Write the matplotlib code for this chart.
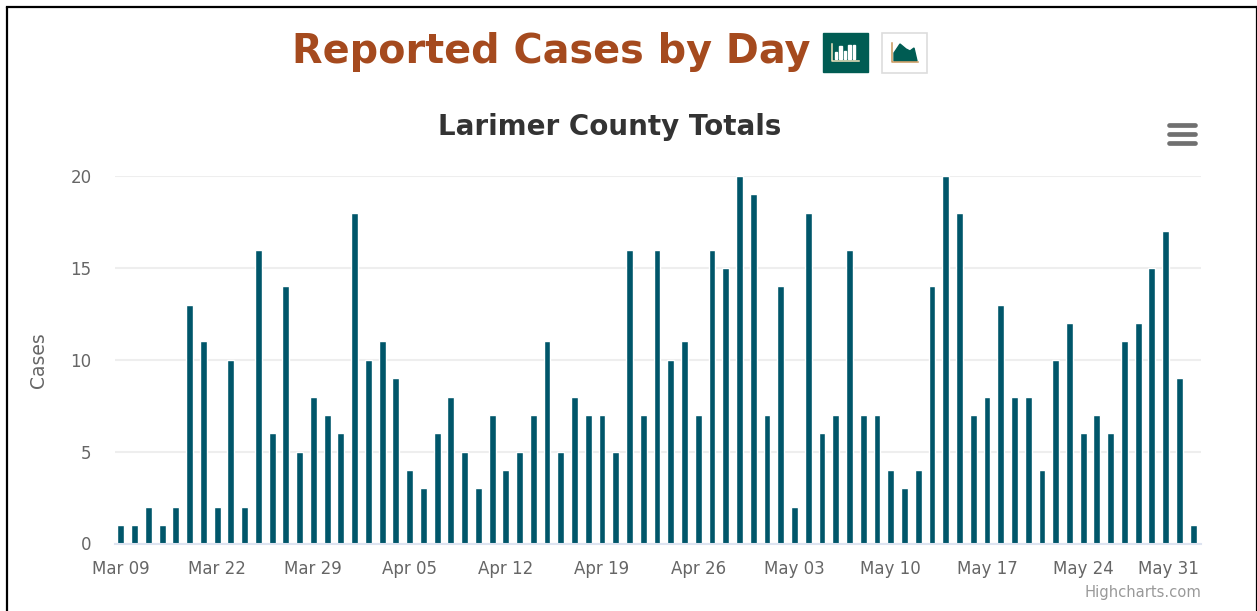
import matplotlib
matplotlib.use('Agg')
import matplotlib.pyplot as plt
import matplotlib.patches as mpatches
import matplotlib.transforms as mtrans
import numpy as np

# daily cases, one bar per reporting day
cases = [1, 1, 2, 1, 2, 13, 11, 2, 10, 2,
         16, 6, 14, 5, 8, 7, 6, 18, 10, 11,
         9, 4, 3, 6, 8, 5, 3, 7, 4, 5,
         7, 11, 5, 8, 7, 7, 5, 16, 7, 16,
         10, 11, 7, 16, 15, 20, 19, 7, 14, 2,
         18, 6, 7, 16, 7, 7, 4, 3, 4, 14,
         20, 18, 7, 8, 13, 8, 8, 4, 10, 12,
         6, 7, 6, 11, 12, 15, 17, 9, 1]
tick_idx = [0, 7, 14, 21, 28, 35, 42, 49, 56, 63, 70, 77]
tick_labels = ['Mar 09', 'Mar 22', 'Mar 29', 'Apr 05', 'Apr 12', 'Apr 19',
               'Apr 26', 'May 03', 'May 10', 'May 17', 'May 24', 'May 31']
y_ticks = [0, 5, 10, 15, 20]

W, H = 1257, 611
fig = plt.figure(figsize=(W / 100, H / 100), dpi=100, facecolor='white')

# chart area
ax = fig.add_axes([115 / W, (H - 543.5) / H, (1201 - 115) / W, (543.5 - 176) / H])
x = np.arange(len(cases))
ax.bar(x, cases, width=0.5, color='#00566a', edgecolor='white', linewidth=1, zorder=3)
ax.set_xlim(-0.43, 78.57)
ax.set_ylim(0, 20)
ax.set_yticks(y_ticks)
ax.set_xticks(tick_idx)
ax.set_xticklabels(tick_labels)
ax.tick_params(axis='both', length=0, labelsize=12, labelcolor='#666666')
ax.tick_params(axis='x', pad=12)
ax.tick_params(axis='y', pad=17)
ax.grid(axis='y', color='#eeeeee', linewidth=1.5, zorder=0)
ax.set_axisbelow(True)
for s in ['top', 'right', 'left']:
    ax.spines[s].set_visible(False)
ax.spines['bottom'].set_color('#dde3f0')
ax.spines['bottom'].set_linewidth(1.5)
ax.spines['bottom'].set_zorder(4)

# last label gets pushed left so it stays in the plot
last = ax.get_xticklabels()[-1]
last.set_transform(last.get_transform() + mtrans.ScaledTranslation(-11 / 100, 0, fig.dpi_scale_trans))

# overlay in pixel coords for the page stuff around the chart
ov = fig.add_axes([0, 0, 1, 1], zorder=5)
ov.set_xlim(0, W)
ov.set_ylim(H, 0)
ov.axis('off')
ov.patch.set_alpha(0)

ov.plot([7, 7], [H, 7], color='black', linewidth=1.6, solid_capstyle='butt')
ov.plot([7, 1256.5], [7, 7], color='black', linewidth=1.6, solid_capstyle='projecting')
ov.plot([1256.5, 1256.5], [7, H], color='black', linewidth=1.6, solid_capstyle='butt')

ov.text(551, 52, 'Reported Cases by Day', color='#a54a1e', fontsize=28.6,
        fontweight='bold', ha='center', va='center')
ov.text(610, 127, 'Larimer County Totals', color='#333333', fontsize=20,
        fontweight='bold', ha='center', va='center')
ov.text(38.5, 360, 'Cases', color='#666666', fontsize=13.5, rotation=90,
        ha='center', va='center')
ov.text(1201, 592, 'Highcharts.com', color='#999999', fontsize=10.6,
        ha='right', va='center')

# bar chart button
ov.add_patch(mpatches.Rectangle((823, 33), 45, 39, color='#005c53'))
for bx, bh in zip([834.5, 839, 843.5, 848, 852.5], [7, 13, 8, 14, 14]):
    ov.add_patch(mpatches.Rectangle((bx, 59 - bh), 2.6, bh, color='white'))
ov.plot([832, 832, 859], [44, 61, 61], color='#f2e6c0', linewidth=1.1)

# area chart button
ov.add_patch(mpatches.Rectangle((882, 32.5), 45, 40, facecolor='white',
                                edgecolor='#dddddd', linewidth=1.2))
ov.add_patch(mpatches.Polygon([(894, 61), (894, 53), (900, 44), (906, 49), (910, 51),
                               (914, 48), (917, 61)], color='#005c53'))
ov.plot([892, 892, 918], [43, 62, 62], color='#c9975b', linewidth=1.1)

# hamburger menu
for my in [125, 133.5, 142.5]:
    ov.plot([1169, 1195], [my, my], color='#707070', linewidth=3.4, solid_capstyle='round')

fig.savefig('out.png', dpi=100)
